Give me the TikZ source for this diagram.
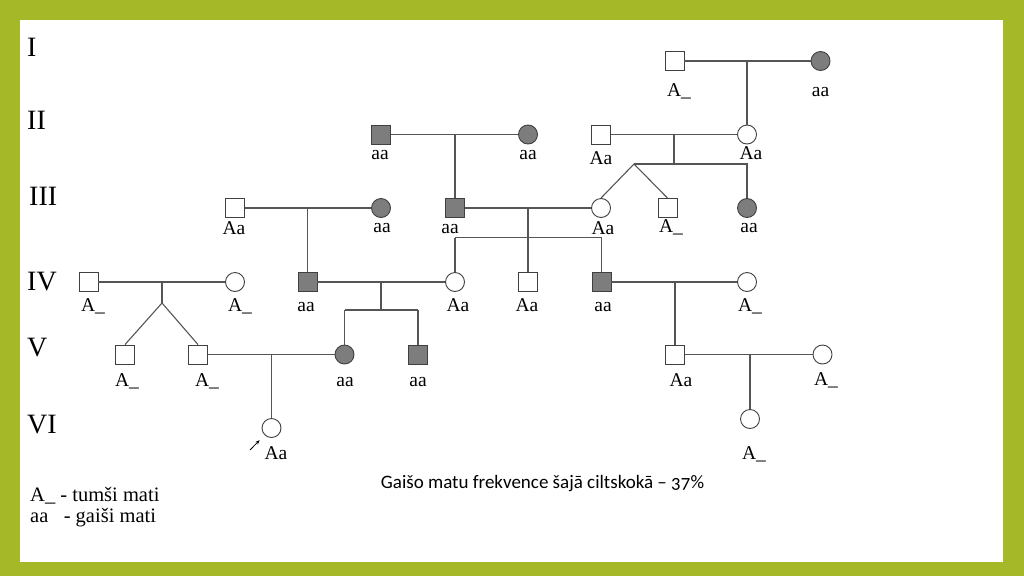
\documentclass[tikz,border=0pt]{standalone}
\usepackage{fontspec}
\setmainfont{Liberation Serif}
\newfontfamily\calfont[Numbers=OldStyle]{Carlito}
\usepackage{tikz}
\usetikzlibrary{arrows.meta}
\usepackage{xcolor}
\definecolor{frame}{RGB}{165,184,40}
\definecolor{affect}{RGB}{125,125,125}
\definecolor{edge}{RGB}{64,64,64}
\definecolor{linegray}{RGB}{85,85,85}

\tikzset{
  mal/.style={rectangle, draw=edge, fill=white, minimum size=19pt, inner sep=0pt, line width=0.9pt},
  fem/.style={circle, draw=edge, fill=white, minimum size=19pt, inner sep=0pt, line width=0.9pt},
  aff/.style={fill=affect},
  lbl/.style={anchor=base, inner sep=0pt, font=\fontsize{19.5}{20}\selectfont},
  gen/.style={anchor=west, inner sep=0pt, font=\fontsize{28}{30}\selectfont},
  key/.style={anchor=base west, inner sep=0pt, font=\fontsize{20.5}{21}\selectfont},
  wire/.style={draw=linegray, line width=1.1pt},
}

\begin{document}
\begin{tikzpicture}[x=1pt, y=-1pt]
  \fill[frame] (0,0) rectangle (1024,576);
  \fill[white] (20,20) rectangle (1003,562);
  \useasboundingbox (0,0) rectangle (1024,576);

  \node[gen] (g1) at (27,47) {I};
  \node[gen] (g2) at (27,120) {II};
  \node[gen] (g3) at (29,196) {III};
  \node[gen] (g4) at (27,281.5) {IV};
  \node[gen] (g5) at (27,347.5) {V};
  \node[gen] (g6) at (27,424.5) {VI};

  \node[mal] (i1) at (674.5,61) {};
  \node[fem, aff] (i2) at (820.5,61) {};

  \node[mal, aff] (ii1) at (381,134.5) {};
  \node[fem, aff] (ii2) at (528,134.5) {};
  \node[mal] (ii3) at (601,134.5) {};
  \node[fem] (ii4) at (747,134.5) {};

  \node[mal] (iii1) at (235,208) {};
  \node[fem, aff] (iii2) at (381,208) {};
  \node[mal, aff] (iii3) at (455,208) {};
  \node[fem] (iii4) at (601,208) {};
  \node[mal] (iii5) at (667.5,208) {};
  \node[fem, aff] (iii6) at (747,208) {};

  \node[mal] (iv1) at (88.5,282) {};
  \node[fem] (iv2) at (235,282) {};
  \node[mal, aff] (iv3) at (307.5,282) {};
  \node[fem] (iv4) at (455,282) {};
  \node[mal] (iv5) at (528,282) {};
  \node[mal, aff] (iv6) at (601.5,282) {};
  \node[fem] (iv7) at (747,282) {};

  \node[mal] (v1) at (125,354.5) {};
  \node[mal] (v2) at (198,354.5) {};
  \node[fem, aff] (v3) at (344.5,354.5) {};
  \node[mal, aff] (v4) at (418,354.5) {};
  \node[mal] (v5) at (675,354.5) {};
  \node[fem] (v6) at (822.5,354.5) {};

  \node[fem] (vi1) at (271.5,428) {};
  \node[fem] (vi2) at (750,419) {};

  \coordinate (m1) at (747,61);
  \coordinate (m2) at (455,134.5);
  \coordinate (m3) at (674,134.5);
  \coordinate (s3) at (674,164);
  \coordinate (t3) at (634,164);
  \coordinate (r3) at (747,164);
  \coordinate (m4) at (307.5,208);
  \coordinate (m5) at (528,208);
  \coordinate (l5) at (455,237.5);
  \coordinate (r5) at (601.5,237.5);
  \coordinate (m6) at (162,282);
  \coordinate (s6) at (162,303);
  \coordinate (m7) at (381,282);
  \coordinate (s7) at (381,310);
  \coordinate (l7) at (344.5,310);
  \coordinate (r7) at (418,310);
  \coordinate (m8) at (675,282);
  \coordinate (m9) at (271.5,354.5);
  \coordinate (m10) at (750,354.5);
  \coordinate (pa) at (250,450);

  \draw[wire] (i1) -- (i2);
  \draw[wire] (m1) -- (ii4);
  \draw[wire] (ii1) -- (ii2);
  \draw[wire] (m2) -- (iii3);
  \draw[wire] (ii3) -- (ii4);
  \draw[wire] (m3) -- (s3);
  \draw[wire] (t3) -- (r3) -- (iii6);
  \draw[wire] (t3) -- (iii4.north);
  \draw[wire] (t3) -- (iii5.north);
  \draw[wire] (iii1) -- (iii2);
  \draw[wire] (m4) -- (iv3);
  \draw[wire] (iii3) -- (iii4);
  \draw[wire] (m5) -- (iv5);
  \draw[wire] (l5) -- (r5);
  \draw[wire] (l5) -- (iv4);
  \draw[wire] (r5) -- (iv6);
  \draw[wire] (iv1) -- (iv2);
  \draw[wire] (m6) -- (s6);
  \draw[wire] (s6) -- (v1.north);
  \draw[wire] (s6) -- (v2.north);
  \draw[wire] (iv3) -- (iv4);
  \draw[wire] (m7) -- (s7);
  \draw[wire] (l7) -- (r7);
  \draw[wire] (l7) -- (v3);
  \draw[wire] (r7) -- (v4);
  \draw[wire] (iv6) -- (iv7);
  \draw[wire] (m8) -- (v5);
  \draw[wire] (v2) -- (v3);
  \draw[wire] (m9) -- (vi1);
  \draw[wire] (v5) -- (v6);
  \draw[wire] (m10) -- (vi2);
  \draw[black, line width=0.8pt, -{Stealth[length=4.5pt, width=3.5pt]}, shorten >=7pt] (pa) -- (vi1);

  \node[lbl] (i1l) at (679,96) {A\_};
  \node[lbl] (i2l) at (820.5,96) {aa};
  \node[lbl] (ii1l) at (380,159) {aa};
  \node[lbl] (ii2l) at (528,159) {aa};
  \node[lbl] (ii3l) at (601,164) {Aa};
  \node[lbl] (ii4l) at (751,159) {Aa};
  \node[lbl] (iii1l) at (234,234) {Aa};
  \node[lbl] (iii2l) at (382,232) {aa};
  \node[lbl] (iii3l) at (450,233) {aa};
  \node[lbl] (iii4l) at (603,234) {Aa};
  \node[lbl] (iii5l) at (671,232) {A\_};
  \node[lbl] (iii6l) at (749,232) {aa};
  \node[lbl] (iv1l) at (93,311) {A\_};
  \node[lbl] (iv2l) at (240,311) {A\_};
  \node[lbl] (iv3l) at (306,311) {aa};
  \node[lbl] (iv4l) at (458,311) {Aa};
  \node[lbl] (iv5l) at (527,311) {Aa};
  \node[lbl] (iv6l) at (603,311) {aa};
  \node[lbl] (iv7l) at (750,311) {A\_};
  \node[lbl] (v1l) at (127,386) {A\_};
  \node[lbl] (v2l) at (207,386) {A\_};
  \node[lbl] (v3l) at (345,386) {aa};
  \node[lbl] (v4l) at (418,386) {aa};
  \node[lbl] (v5l) at (681,386) {Aa};
  \node[lbl] (v6l) at (826,385) {A\_};
  \node[lbl] (vi1l) at (276,459) {Aa};
  \node[lbl] (vi2l) at (754,459) {A\_};

  \node[anchor=base, inner sep=0pt, font=\calfont\fontsize{19}{20}\selectfont] (cap) at (542.5,488) {Gaišo matu frekvence šajā ciltskokā – 37\%};
  \node[key] (key1) at (30,501) {A\_ - tumši mati};
  \node[key] (key2) at (30,522) {aa\ \ \ - gaiši mati};
\end{tikzpicture}
\end{document}
